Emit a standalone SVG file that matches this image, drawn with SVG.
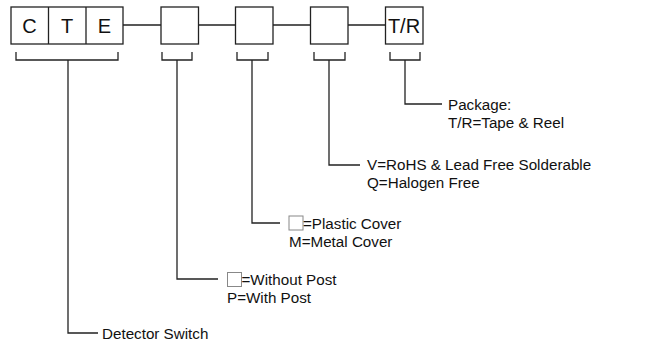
<svg xmlns="http://www.w3.org/2000/svg" width="647" height="347" viewBox="0 0 647 347">
<style>
.box{fill:#fff;stroke:#222;stroke-width:1.3}
.ln{fill:none;stroke:#222;stroke-width:1.3}
.sq{fill:#fff;stroke:#888;stroke-width:1}
.big{font-family:"Liberation Sans",Arial,sans-serif;font-size:20px;fill:#111}
.t{font-family:"Liberation Sans",Arial,sans-serif;font-size:15.2px;fill:#111}
</style>
<rect width="647" height="347" fill="#fff"/>
<g id="connectors">
<path class="ln" d="M123 25H161M198.5 25H235.5M273 25H310.5M348 25H385.5"/>
<path class="ln" d="M16 52V60H118V52M68 60V333H98"/>
<path class="ln" d="M162 52V60H192V52M177 60V279H218"/>
<path class="ln" d="M237 52V60H268V52M252 60V223H280"/>
<path class="ln" d="M314 52V60H345V52M329 60V165H360"/>
<path class="ln" d="M390 52V60H420V52M405 60V104H442"/>
</g>
<g id="node-cte">
<rect class="box" x="11" y="7" width="112" height="37"/>
<path class="ln" d="M48.5 7V44M86 7V44"/>
<text class="big" x="29.5" y="33" text-anchor="middle">C</text>
<text class="big" x="67" y="33" text-anchor="middle">T</text>
<text class="big" x="104.5" y="33" text-anchor="middle">E</text>
</g>
<g id="node-post"><rect class="box" x="161" y="7" width="37.5" height="37"/></g>
<g id="node-cover"><rect class="box" x="235.5" y="7" width="37.5" height="37"/></g>
<g id="node-rohs"><rect class="box" x="310.5" y="7" width="37.5" height="37"/></g>
<g id="node-tr">
<rect class="box" x="385.5" y="7" width="37.5" height="37"/>
<text class="big" x="404" y="33" text-anchor="middle">T/R</text>
</g>
<g id="label-package">
<text class="t" x="448" y="110">Package:</text>
<text class="t" x="448" y="128">T/R=Tape &amp; Reel</text>
</g>
<g id="label-rohs">
<text class="t" x="367" y="170">V=RoHS &amp; Lead Free Solderable</text>
<text class="t" x="367" y="188">Q=Halogen Free</text>
</g>
<g id="label-cover">
<rect class="sq" x="289" y="216" width="14" height="14"/>
<text class="t" x="303" y="229">=Plastic Cover</text>
<text class="t" x="289" y="247">M=Metal Cover</text>
</g>
<g id="label-post">
<rect class="sq" x="227.5" y="272.5" width="14" height="14"/>
<text class="t" x="241.5" y="285">=Without Post</text>
<text class="t" x="227" y="303">P=With Post</text>
</g>
<g id="label-detector">
<text class="t" x="102" y="339">Detector Switch</text>
</g>
</svg>
